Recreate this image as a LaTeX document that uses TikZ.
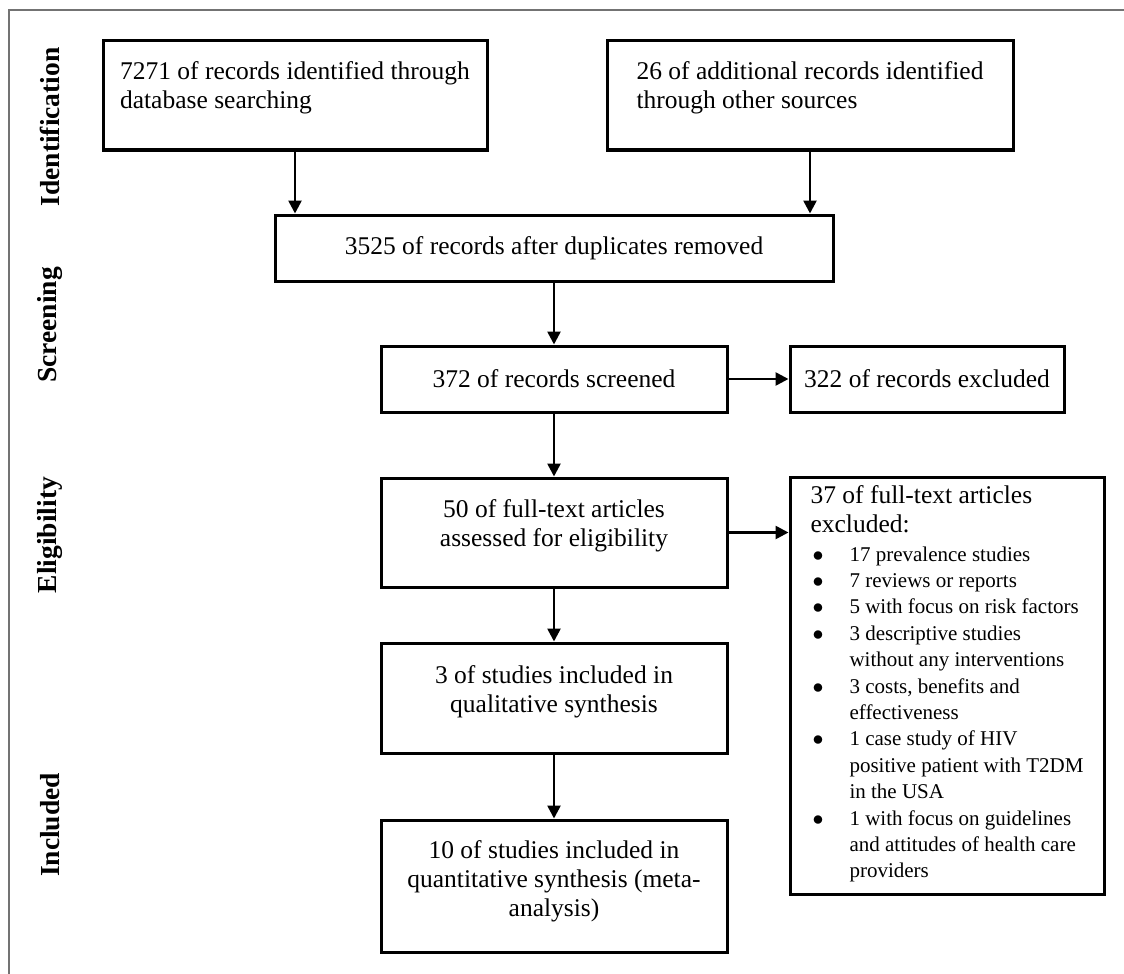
\documentclass[tikz,border=0pt]{standalone}
\usepackage{fontspec}
\setmainfont{Liberation Serif}
\usetikzlibrary{arrows.meta}

\newcommand{\mainsize}{\fontsize{12.75}{14.5}\selectfont}
\newcommand{\listsize}{\fontsize{10.5}{13.2}\selectfont}

\begin{document}
\begin{tikzpicture}[
    x=0.5pt, y=-0.5pt,
    box/.style={draw, line width=1.5pt, font=\mainsize, align=center,
                inner sep=0pt},
    raised/.style={text depth=#1},
    stage/.style={font=\bfseries\fontsize{13.75}{16}\selectfont, rotate=90},
    flow/.style={-{Triangle[length=6.5pt,width=6.5pt]}, line width=1.3pt},
]
\useasboundingbox (0,0) rectangle (1124,974);

% Outer frame (top and left edges only)
\draw[black!55, line width=1pt] (9,974) -- (9,10) -- (1124,10);

% Stage labels
\node[stage] (identification) at (50,127) {Identification};
\node[stage] (screening)      at (50,325) {Screening};
\node[stage] (eligibility)    at (50,535) {Eligibility};
\node[stage] (included)       at (50,825) {Included};

% Identification boxes
\node[box, raised=10pt, align=left, minimum width=192pt,
      minimum height=54.5pt] (dbase)
    at (295,95.5) {7271 of records identified through\\database searching};
\node[box, raised=10pt, align=left, minimum width=203pt,
      minimum height=54.5pt] (other)
    at (810,95.5) {26 of additional records identified\\through other sources};

% Screening boxes
\node[box, minimum width=279pt, minimum height=33pt] (dupl) at (554,248)
    {3525 of records after duplicates removed};
\node[box, minimum width=173pt, minimum height=33pt] (screen) at (554,379)
    {372 of records screened};
\node[box, minimum width=137pt, minimum height=33pt] (excl) at (927,379)
    {322 of records excluded};

% Eligibility and included boxes
\node[box, raised=9pt, minimum width=173pt, minimum height=54.5pt] (fulltext)
    at (554,532.5) {50 of full-text articles\\assessed for eligibility};
\node[box, raised=9pt, minimum width=173pt, minimum height=55pt] (qual)
    at (554,698) {3 of studies included in\\qualitative synthesis};
\node[box, raised=7pt, minimum width=173pt, minimum height=66pt] (quant)
    at (554,886)
    {10 of studies included in\\quantitative synthesis (meta-\\analysis)};

% Exclusion reasons
\node[box, align=left, minimum width=157pt, minimum height=208.5pt,
      inner xsep=9pt] (ftexcl) at (947,685.5)
    {37 of full-text articles\\excluded:\\
     {\listsize\begin{tabular}[t]{@{\hspace{1pt}}p{18.5pt}@{}l@{}}
      $\bullet$ & 17 prevalence studies\\
      $\bullet$ & 7 reviews or reports\\
      $\bullet$ & 5 with focus on risk factors\\
      $\bullet$ & 3 descriptive studies\\
                & without any interventions\\
      $\bullet$ & 3 costs, benefits and\\
                & effectiveness\\
      $\bullet$ & 1 case study of HIV\\
                & positive patient with T2DM\\
                & in the USA\\
      $\bullet$ & 1 with focus on guidelines\\
                & and attitudes of health care\\
                & providers
     \end{tabular}}};

% Flow arrows
\draw[flow] (dbase.south) -- (dbase.south |- dupl.north);
\draw[flow] (other.south) -- (other.south |- dupl.north);
\draw[flow] (dupl) -- (screen);
\draw[flow] (screen) -- (excl);
\draw[flow] (screen) -- (fulltext);
\draw[flow] (fulltext.east) -- (fulltext.east -| ftexcl.west);
\draw[flow] (fulltext) -- (qual);
\draw[flow] (qual) -- (quant);
\end{tikzpicture}
\end{document}
